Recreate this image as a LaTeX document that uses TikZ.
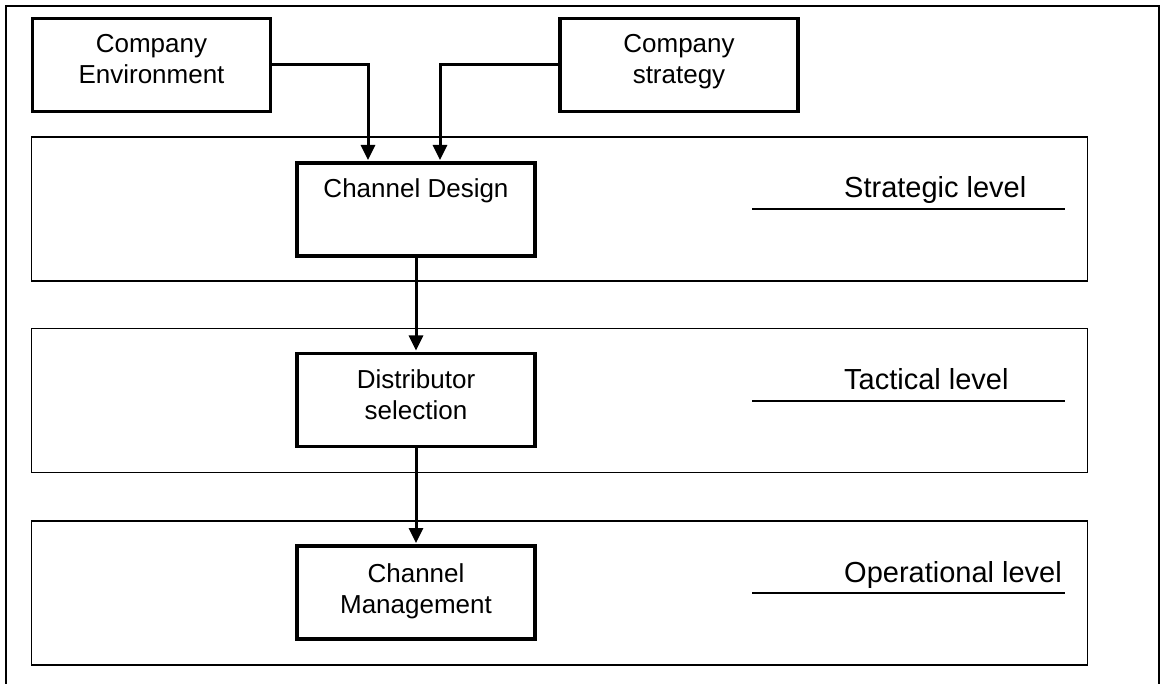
\documentclass[tikz,border=0pt]{standalone}
\usepackage{fontspec}
\setmainfont{Liberation Sans}
\usetikzlibrary{arrows.meta}
\begin{document}
\begin{tikzpicture}[x=1pt,y=-1pt,
  box/.style={draw, line width=3.2pt, minimum width=238pt, minimum height=93pt, inner sep=0pt},
  panel/.style={draw, line width=1.8pt, minimum width=1056pt, minimum height=144pt, inner sep=0pt},
  boxtext/.style={anchor=north, inner sep=0pt, align=center, font=\fontsize{26}{31}\selectfont},
  leveltext/.style={anchor=base west, inner sep=0pt, font=\fontsize{29}{34}\selectfont},
  rule/.style={line width=1.8pt},
  flow/.style={line width=3pt, shorten >=1.4pt, -{Triangle[length=15pt,width=14pt]}},
  frame/.style={line width=1.5pt}]
\useasboundingbox (0,0) rectangle (1168,684);

% outer frame, open at the bottom
\draw[frame] (6,684) -- (6,6) -- (1159,6) -- (1159,684);

% the three planning levels
\node[panel] (strategic)   at (559.5,209)   {};
\node[panel] (tactical)    at (559.5,400.5) {};
\node[panel] (operational) at (559.5,593)   {};

\node[leveltext] (strategiclbl)   at (844,198) {Strategic level};
\node[leveltext] (tacticallbl)    at (844,390) {Tactical level};
\node[leveltext] (operationallbl) at (844,582) {Operational level};
\draw[rule] (752,209) -- (1065,209);
\draw[rule] (752,401) -- (1065,401);
\draw[rule] (752,593) -- (1065,593);

% decision boxes
\node[box] (env)        at (151.5,65)  {};
\node[box] (strategy)   at (679,65)    {};
\node[box] (design)     at (416,209.5) {};
\node[box] (selection)  at (416,400)   {};
\node[box] (management) at (416,592.5) {};

\node[boxtext] (envtxt)        at (151.5,34) {Company\\Environment};
\node[boxtext] (strategytxt)   at (679,34)   {Company\\strategy};
\node[boxtext] (designtxt)     at (416,178)  {Channel Design};
\node[boxtext] (selectiontxt)  at (416,369)  {Distributor\\selection};
\node[boxtext] (managementtxt) at (416,563)  {Channel\\Management};

% flows
\draw[flow] (env.east) -| ([xshift=-48pt]design.north);
\draw[flow] (strategy.west) -| ([xshift=24pt]design.north);
\draw[flow] (design.south) -- (selection.north);
\draw[flow] (selection.south) -- (management.north);
\end{tikzpicture}
\end{document}
